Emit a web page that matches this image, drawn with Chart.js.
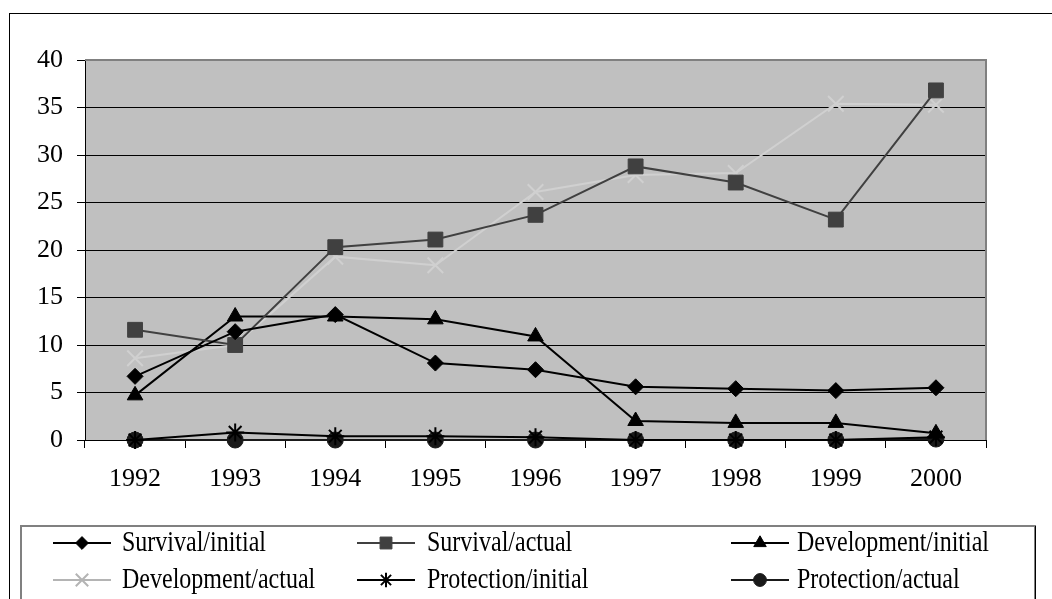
<!DOCTYPE html>
<html>
<head>
<meta charset="utf-8">
<script src="https://cdn.jsdelivr.net/npm/chart.js@4/dist/chart.umd.min.js"></script>
<style>
    html, body { margin: 0; padding: 0; background: #fff; }
    #wrap { width: 1052px; height: 599px; position: relative; }
</style>
</head>
<body>
<div id="wrap"><canvas id="chartMain" width="1052" height="599"></canvas></div>
<script>
const years = ['1992', '1993', '1994', '1995', '1996', '1997', '1998', '1999', '2000'];
const yTicks = [0, 5, 10, 15, 20, 25, 30, 35, 40];

const survivalInitial = [6.7, 11.4, 13.2, 8.1, 7.4, 5.6, 5.4, 5.2, 5.5];
const survivalActual = [11.6, 10.0, 20.3, 21.1, 23.7, 28.8, 27.1, 23.2, 36.8];
const developmentInitial = [4.7, 13.0, 13.0, 12.7, 10.9, 2.0, 1.8, 1.8, 0.7];
const developmentActual = [8.6, 10.0, 19.3, 18.4, 26.1, 27.9, 28.1, 35.4, 35.3];
const protectionInitial = [0, 0.8, 0.4, 0.4, 0.3, 0, 0, 0, 0.3];
const protectionActual = [0, 0, 0, 0, 0, 0, 0, 0, 0.1];

const FONT = '"Liberation Serif", "Times New Roman", serif';

function makeSeries(label, data, color, pointStyle, radius) {
    return {
        label: label,
        data: data,
        borderColor: color,
        backgroundColor: color,
        pointBackgroundColor: color,
        pointBorderColor: color,
        pointStyle: pointStyle,
        pointRadius: radius,
        pointHoverRadius: radius,
        pointBorderWidth: (pointStyle === 'star' || pointStyle === 'crossRot') ? 2 : 1,
        borderWidth: 2,
        tension: 0,
        fill: false,
        clip: false
    };
}

const datasets = [
    makeSeries('Survival/initial', survivalInitial, '#000000', 'rectRot', 8),
    makeSeries('Survival/actual', survivalActual, '#404040', 'rect', 10.5),
    makeSeries('Development/initial', developmentInitial, '#000000', 'triangle', 9),
    makeSeries('Development/actual', developmentActual, '#d0d0d0', 'crossRot', 11),
    makeSeries('Protection/initial', protectionInitial, '#000000', 'star', 9),
    makeSeries('Protection/actual', protectionActual, '#1a1a1a', 'circle', 8)
];

// plot background, plot border and outer frame
const framePlugin = {
    id: 'frame',
    beforeDraw(chart) {
        const { ctx, chartArea } = chart;
        ctx.save();
        ctx.fillStyle = '#ffffff';
        ctx.fillRect(0, 0, chart.width, chart.height);
        ctx.strokeStyle = '#000000';
        ctx.lineWidth = 1;
        ctx.strokeRect(9.5, 13.5, 1200, 800);
        ctx.fillStyle = '#c0c0c0';
        ctx.fillRect(chartArea.left, chartArea.top, chartArea.right - chartArea.left, chartArea.bottom - chartArea.top);
        ctx.restore();
    },
    beforeDatasetsDraw(chart) {
        const { ctx, chartArea } = chart;
        ctx.save();
        ctx.strokeStyle = '#808080';
        ctx.lineWidth = 2;
        ctx.beginPath();
        ctx.moveTo(chartArea.left, chartArea.top);
        ctx.lineTo(chartArea.right, chartArea.top);
        ctx.lineTo(chartArea.right, chartArea.bottom);
        ctx.stroke();
        ctx.restore();
    }
};

// legend drawn as a 3 x 2 grid in a box below the plot
const gridLegend = {
    id: 'gridLegend',
    afterDraw(chart) {
        const { ctx } = chart;
        const colLine = [53, 357, 731];
        const colText = [122, 427, 797];
        const rowY = [543, 580];
        ctx.save();
        ctx.strokeStyle = '#808080';
        ctx.lineWidth = 2;
        ctx.strokeRect(21, 526, 1014, 200);
        ctx.strokeStyle = '#000000';
        ctx.lineWidth = 1;
        ctx.beginPath();
        ctx.moveTo(1035.5, 526);
        ctx.lineTo(1035.5, 599);
        ctx.stroke();

        chart.data.datasets.forEach((ds, i) => {
            const col = i % 3;
            const row = Math.floor(i / 3);
            const y = rowY[row];
            const x0 = colLine[col];
            const isCross = ds.pointStyle === 'crossRot';
            ctx.strokeStyle = isCross ? '#b4b4b4' : ds.borderColor;
            ctx.lineWidth = 2;
            ctx.beginPath();
            ctx.moveTo(x0, y);
            ctx.lineTo(x0 + 58, y);
            ctx.stroke();
            ctx.fillStyle = ds.pointBackgroundColor;
            ctx.strokeStyle = isCross ? '#b4b4b4' : ds.pointBorderColor;
            ctx.lineWidth = ds.pointBorderWidth;
            Chart.helpers.drawPoint(ctx, {
                pointStyle: ds.pointStyle,
                radius: ds.pointRadius * 0.8,
                rotation: 0,
                borderWidth: ds.pointBorderWidth
            }, x0 + 29, y);
            // taller serif text like the reference
            ctx.save();
            ctx.translate(colText[col], y);
            ctx.scale(1, 1.2);
            ctx.fillStyle = '#000000';
            ctx.font = '24px ' + FONT;
            ctx.textBaseline = 'middle';
            ctx.textAlign = 'left';
            ctx.fillText(ds.label, 0, 0);
            ctx.restore();
        });
        ctx.restore();
    }
};

new Chart(document.querySelector('#chartMain').getContext('2d'), {
    type: 'line',
    data: { labels: years, datasets: datasets },
    plugins: [framePlugin, gridLegend],
    options: {
        responsive: false,
        animation: false,
        devicePixelRatio: 1,
        layout: { padding: { left: 0, right: 66, top: 60, bottom: 79 } },
        plugins: {
            legend: { display: false },
            tooltip: { enabled: false }
        },
        scales: {
            x: {
                offset: true,
                afterFit(scale) { scale.height = 80; },
                grid: {
                    offset: true,
                    drawOnChartArea: false,
                    drawTicks: true,
                    tickLength: 8,
                    color: '#000000'
                },
                border: { color: '#000000', width: 1 },
                ticks: {
                    autoSkip: false,
                    maxRotation: 0,
                    padding: 16,
                    color: '#000000',
                    font: { family: FONT, size: 26 }
                }
            },
            y: {
                min: yTicks[0],
                max: yTicks[yTicks.length - 1],
                afterFit(scale) { scale.width = 85; },
                afterBuildTicks(scale) { scale.ticks = yTicks.map(v => ({ value: v })); },
                grid: {
                    color: '#000000',
                    lineWidth: 1,
                    tickLength: 8
                },
                border: { color: '#000000', width: 1 },
                ticks: {
                    padding: 14,
                    color: '#000000',
                    font: { family: FONT, size: 26 }
                }
            }
        }
    }
});
</script>
</body>
</html>
